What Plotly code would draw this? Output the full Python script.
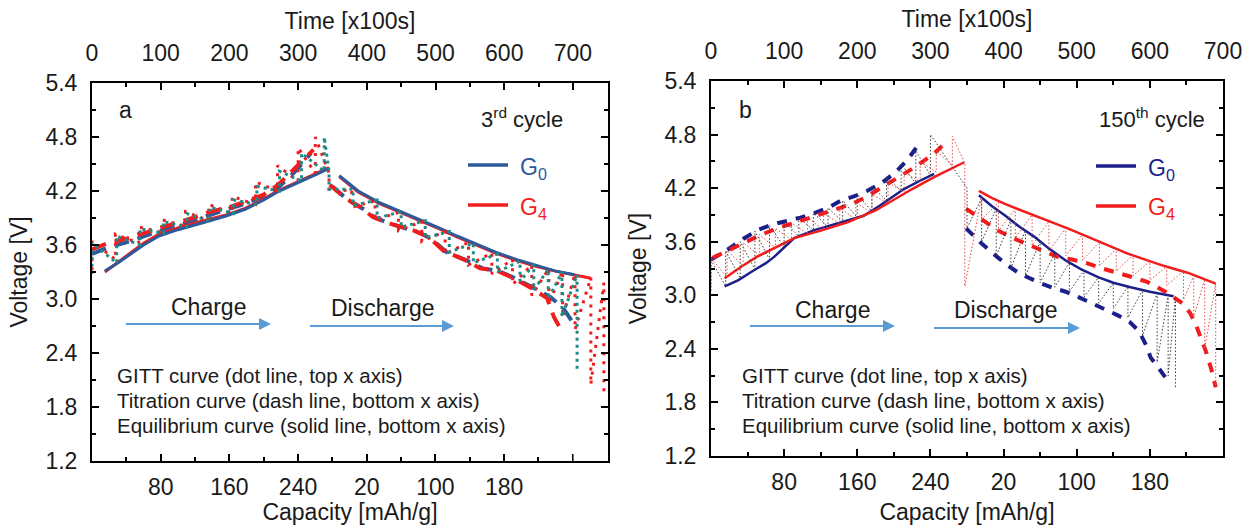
import plotly.graph_objects as go

# ---------------- panel a : 3rd cycle ----------------
# equilibrium curves (solid, bottom axis: continuous capacity scale)
a_eq_g0_chg_cap = [15, 30, 45, 60, 78, 100, 130, 155, 179, 200, 216, 240, 260, 276]
a_eq_g0_chg_v = [3.31, 3.40, 3.50, 3.60, 3.70, 3.77, 3.85, 3.92, 4.00, 4.10, 4.19, 4.29, 4.38, 4.45]
a_eq_g4_chg_cap = [15, 30, 45, 60, 78, 100, 130, 155, 179, 200, 216, 240, 260, 276]
a_eq_g4_chg_v = [3.30, 3.41, 3.52, 3.62, 3.72, 3.79, 3.87, 3.93, 4.01, 4.11, 4.20, 4.30, 4.39, 4.46]
a_eq_g0_dis_cap = [288, 310, 335, 355, 380, 402, 425, 447, 470, 494, 518, 540, 562]
a_eq_g0_dis_v = [4.37, 4.20, 4.07, 3.99, 3.89, 3.80, 3.70, 3.61, 3.52, 3.44, 3.37, 3.31, 3.27]
a_eq_g4_dis_cap = [288, 310, 335, 355, 380, 402, 425, 447, 470, 494, 518, 540, 562, 581]
a_eq_g4_dis_v = [4.36, 4.19, 4.06, 3.98, 3.88, 3.79, 3.69, 3.60, 3.51, 3.43, 3.36, 3.31, 3.27, 3.23]

# titration curves (dashed, bottom axis)
a_ti_g0_chg_cap = [0, 18, 40, 57, 80, 97, 120, 138, 160, 175, 200, 217, 237, 255]
a_ti_g0_chg_v = [3.50, 3.57, 3.63, 3.69, 3.76, 3.81, 3.88, 3.94, 4.00, 4.05, 4.14, 4.24, 4.42, 4.62]
a_ti_g4_chg_cap = [0, 18, 40, 57, 80, 97, 120, 138, 160, 175, 200, 217, 237, 258]
a_ti_g4_chg_v = [3.55, 3.62, 3.67, 3.72, 3.79, 3.84, 3.91, 3.97, 4.02, 4.07, 4.16, 4.27, 4.46, 4.66]
a_ti_g0_dis_cap = [280, 298, 316, 330, 353, 378, 395, 413, 436, 455, 474, 493, 515, 534, 548, 560]
a_ti_g0_dis_v = [4.25, 4.10, 4.00, 3.90, 3.82, 3.75, 3.67, 3.52, 3.43, 3.34, 3.31, 3.23, 3.12, 3.02, 2.91, 2.74]
a_ti_g4_dis_cap = [277, 295, 313, 327, 350, 375, 392, 410, 433, 452, 470, 489, 512, 530, 538, 548]
a_ti_g4_dis_v = [4.27, 4.12, 4.02, 3.91, 3.83, 3.76, 3.69, 3.53, 3.44, 3.34, 3.32, 3.24, 3.12, 3.01, 2.80, 2.63]

# GITT steps (dotted, top axis: time in x100 s): pulse time, relaxed voltage, pulse-end voltage
a_gitt_g0_t = [0, 36, 70, 104, 138, 172, 206, 240, 273, 305, 338,
               345, 380, 415, 450, 485, 520, 555, 590, 623, 643, 664, 684, 706]
a_gitt_g0_rest = [3.28, 3.40, 3.60, 3.73, 3.80, 3.86, 3.95, 4.05, 4.20, 4.31, 4.42,
                  4.42, 4.22, 4.10, 3.97, 3.87, 3.75, 3.62, 3.50, 3.42, 3.38, 3.33, 3.30, 3.27]
a_gitt_g0_pulse = [3.62, 3.70, 3.78, 3.86, 3.95, 4.02, 4.10, 4.25, 4.42, 4.62, 4.80,
                   4.22, 4.04, 3.90, 3.80, 3.68, 3.52, 3.40, 3.30, 3.20, 3.10, 3.00, 2.80, 2.20]
a_gitt_g4_t = [0, 34, 68, 102, 136, 170, 204, 238, 270, 300, 325,
               345, 378, 412, 446, 480, 514, 548, 582, 612, 640, 665, 685, 703, 726, 745]
a_gitt_g4_rest = [3.32, 3.44, 3.62, 3.74, 3.81, 3.87, 3.95, 4.05, 4.20, 4.31, 4.40,
                  4.40, 4.21, 4.09, 3.96, 3.86, 3.75, 3.63, 3.51, 3.44, 3.38, 3.34, 3.31, 3.28, 3.24, 3.18]
a_gitt_g4_pulse = [3.64, 3.72, 3.80, 3.88, 3.97, 4.05, 4.14, 4.30, 4.48, 4.68, 4.80,
                   4.20, 4.02, 3.88, 3.76, 3.64, 3.50, 3.38, 3.28, 3.16, 3.04, 2.95, 2.80, 2.66, 2.05, 1.97]

# ---------------- panel b : 150th cycle ----------------
b_eq_g0_chg_cap = [15, 30, 47, 60, 69, 80, 91, 113, 130, 149, 167, 184, 200, 211, 228, 244]
b_eq_g0_chg_v = [3.10, 3.17, 3.28, 3.36, 3.43, 3.54, 3.64, 3.73, 3.78, 3.83, 3.89, 4.00, 4.11, 4.19, 4.28, 4.36]
b_eq_g4_chg_cap = [15, 33, 50, 69, 91, 122, 150, 180, 200, 220, 245, 265, 277]
b_eq_g4_chg_v = [3.19, 3.32, 3.43, 3.53, 3.64, 3.73, 3.82, 3.95, 4.07, 4.19, 4.33, 4.43, 4.49]
b_eq_g0_dis_cap = [293, 307, 322, 337, 353, 370, 388, 405, 424, 440, 459, 480, 506]
b_eq_g0_dis_v = [4.12, 4.00, 3.89, 3.77, 3.66, 3.52, 3.39, 3.29, 3.20, 3.14, 3.09, 3.04, 2.99]
b_eq_g4_dis_cap = [293, 307, 322, 345, 366, 390, 411, 435, 455, 475, 495, 522, 552]
b_eq_g4_dis_v = [4.17, 4.09, 4.02, 3.93, 3.84, 3.75, 3.66, 3.56, 3.47, 3.40, 3.33, 3.25, 3.13]

b_ti_g0_chg_cap = [0, 18, 35, 51, 66, 82, 98, 113, 128, 142, 157, 171, 187, 202, 216, 229]
b_ti_g0_chg_v = [3.40, 3.51, 3.63, 3.73, 3.79, 3.83, 3.87, 3.92, 3.98, 4.06, 4.11, 4.17, 4.26, 4.38, 4.53, 4.72]
b_ti_g4_chg_cap = [2, 18, 33, 47, 60, 75, 91, 106, 122, 137, 153, 168, 184, 200, 219, 242, 260]
b_ti_g4_chg_v = [3.42, 3.50, 3.58, 3.64, 3.70, 3.76, 3.81, 3.86, 3.92, 3.97, 4.02, 4.09, 4.19, 4.29, 4.41, 4.57, 4.74]
b_ti_g0_dis_cap = [279, 296, 313, 325, 338, 350, 362, 375, 388, 402, 415, 430, 446, 458, 468, 475, 481, 490, 497]
b_ti_g0_dis_v = [3.75, 3.58, 3.43, 3.33, 3.24, 3.18, 3.13, 3.08, 3.04, 2.98, 2.92, 2.85, 2.77, 2.70, 2.60, 2.46, 2.30, 2.18, 2.08]
b_ti_g4_dis_cap = [279, 296, 313, 328, 344, 362, 379, 395, 411, 428, 446, 462, 477, 497, 517, 524, 530, 536, 541, 547, 552]
b_ti_g4_dis_v = [3.97, 3.85, 3.73, 3.65, 3.58, 3.50, 3.43, 3.40, 3.36, 3.30, 3.25, 3.20, 3.15, 3.04, 2.90, 2.80, 2.68, 2.52, 2.38, 2.18, 1.97]

b_gitt_g0_t = [0, 20, 40, 60, 80, 100, 120, 140, 160, 180, 200, 220, 240, 260, 280, 300,
               350, 370, 390, 410, 430, 450, 470, 490, 510, 530, 550, 570, 590, 610, 625, 635]
b_gitt_g0_rest = [3.05, 3.10, 3.19, 3.29, 3.40, 3.54, 3.66, 3.73, 3.77, 3.82, 3.87, 3.94, 4.06, 4.17, 4.25, 4.34,
                  4.20, 4.09, 3.97, 3.85, 3.73, 3.60, 3.47, 3.37, 3.28, 3.20, 3.14, 3.10, 3.06, 3.02, 3.00, 2.98]
b_gitt_g0_pulse = [3.40, 3.50, 3.60, 3.72, 3.78, 3.83, 3.87, 3.92, 3.98, 4.06, 4.13, 4.22, 4.33, 4.47, 4.62, 4.80,
                   3.75, 3.60, 3.44, 3.30, 3.22, 3.14, 3.09, 3.04, 2.98, 2.91, 2.85, 2.75, 2.55, 2.25, 2.10, 1.97]
b_gitt_g4_t = [0, 22, 44, 66, 88, 110, 132, 154, 176, 198, 220, 242, 264, 286, 308, 330,
               347, 370, 393, 416, 439, 462, 485, 508, 531, 554, 577, 600, 623, 646, 660, 675, 690]
b_gitt_g4_rest = [3.12, 3.20, 3.33, 3.45, 3.53, 3.62, 3.69, 3.73, 3.80, 3.85, 3.92, 4.03, 4.16, 4.27, 4.38, 4.45,
                  4.48, 4.12, 4.04, 3.97, 3.90, 3.83, 3.75, 3.68, 3.60, 3.52, 3.45, 3.38, 3.32, 3.27, 3.22, 3.18, 3.13]
b_gitt_g4_pulse = [3.42, 3.50, 3.59, 3.68, 3.75, 3.81, 3.87, 3.92, 3.98, 4.04, 4.13, 4.26, 4.38, 4.50, 4.62, 4.78,
                   3.10, 3.85, 3.72, 3.64, 3.56, 3.50, 3.44, 3.39, 3.33, 3.27, 3.22, 3.17, 3.11, 2.95, 2.75, 2.40, 1.97]

# bottom axis: charge capacity continues into discharge capacity (discharge 0 sits at 300)
cap_ticks_a = [80, 160, 240, 320, 400, 480]
cap_text_a = ["80", "160", "240", "20", "100", "180"]
cap_ticks_b = [80, 160, 240, 320, 400, 480]
cap_text_b = ["80", "160", "240", "20", "100", "180"]
v_ticks = [1.2, 1.8, 2.4, 3.0, 3.6, 4.2, 4.8, 5.4]

# ---------------- styling ----------------
W, H = 1249, 525
BLUE_A = "#2c5a9a"
BLUE_B = "#1b1f8a"
RED = "#f21c1c"
TEAL = "#1f8a88"
ARROW = "#5b9bd5"
FONT = "Liberation Sans, Arial, sans-serif"


def px(x):
    return x / W


def py(y):
    return 1 - y / H


def gitt_path(t, rest, pulse):
    xs, ys = [], []
    for ti, r, p in zip(t, rest, pulse):
        xs += [ti, ti]
        ys += [r, p]
    return xs, ys


def trace(x, y, xa, ya, color, width, dash="solid"):
    return go.Scatter(x=x, y=y, xaxis=xa, yaxis=ya, mode="lines",
                      line=dict(color=color, width=width, dash=dash),
                      showlegend=False, hoverinfo="skip")


fig = go.Figure()

# panel a
DASH_A = "15px,9px"
fig.add_trace(trace(a_ti_g0_chg_cap, a_ti_g0_chg_v, "x", "y", BLUE_A, 4, DASH_A))
fig.add_trace(trace(a_ti_g0_dis_cap, a_ti_g0_dis_v, "x", "y", BLUE_A, 4, DASH_A))
fig.add_trace(trace(a_ti_g4_chg_cap, a_ti_g4_chg_v, "x", "y", RED, 4, DASH_A))
fig.add_trace(trace(a_ti_g4_dis_cap, a_ti_g4_dis_v, "x", "y", RED, 4, DASH_A))
gx, gy = gitt_path(a_gitt_g4_t, a_gitt_g4_rest, a_gitt_g4_pulse)
fig.add_trace(trace(gx, gy, "x2", "y", RED, 3, "3px,6px"))
gx, gy = gitt_path(a_gitt_g0_t, a_gitt_g0_rest, a_gitt_g0_pulse)
fig.add_trace(trace(gx, gy, "x2", "y", TEAL, 3, "3px,4px"))
fig.add_trace(trace(a_eq_g4_chg_cap, a_eq_g4_chg_v, "x", "y", RED, 3))
fig.add_trace(trace(a_eq_g4_dis_cap, a_eq_g4_dis_v, "x", "y", RED, 3))
fig.add_trace(trace(a_eq_g0_chg_cap, a_eq_g0_chg_v, "x", "y", BLUE_A, 3))
fig.add_trace(trace(a_eq_g0_dis_cap, a_eq_g0_dis_v, "x", "y", BLUE_A, 3))

# panel b
DASH_B = "10px,9px"
gx, gy = gitt_path(b_gitt_g0_t, b_gitt_g0_rest, b_gitt_g0_pulse)
fig.add_trace(trace(gx, gy, "x4", "y2", "#3a3a3a", 1, "1.5px,2px"))
gx, gy = gitt_path(b_gitt_g4_t, b_gitt_g4_rest, b_gitt_g4_pulse)
fig.add_trace(trace(gx, gy, "x4", "y2", "#e24a4a", 1, "1.5px,2px"))
fig.add_trace(trace(b_eq_g0_chg_cap, b_eq_g0_chg_v, "x3", "y2", BLUE_B, 2.5))
fig.add_trace(trace(b_eq_g0_dis_cap, b_eq_g0_dis_v, "x3", "y2", BLUE_B, 2.5))
fig.add_trace(trace(b_eq_g4_chg_cap, b_eq_g4_chg_v, "x3", "y2", RED, 2.5))
fig.add_trace(trace(b_eq_g4_dis_cap, b_eq_g4_dis_v, "x3", "y2", RED, 2.5))
fig.add_trace(trace(b_ti_g0_chg_cap, b_ti_g0_chg_v, "x3", "y2", BLUE_B, 4, DASH_B))
fig.add_trace(trace(b_ti_g0_dis_cap, b_ti_g0_dis_v, "x3", "y2", BLUE_B, 4, DASH_B))
fig.add_trace(trace(b_ti_g4_chg_cap, b_ti_g4_chg_v, "x3", "y2", RED, 4, DASH_B))
fig.add_trace(trace(b_ti_g4_dis_cap, b_ti_g4_dis_v, "x3", "y2", RED, 4, DASH_B))

tickfont = dict(family=FONT, size=23, color="#1a1a1a")
titlefont = dict(family=FONT, size=23, color="#1a1a1a")
common = dict(showline=True, linecolor="black", linewidth=2, ticks="inside",
              ticklen=7, tickwidth=1.5, tickcolor="black", showgrid=False,
              zeroline=False, tickfont=tickfont, fixedrange=True, automargin=False)
minor_style = dict(ticks="inside", ticklen=4, tickwidth=1.5, tickcolor="black")


def bottom_axis(domain, yref, rng, tv, tt):
    minor_vals = [v - 40 for v in tv] + [tv[-1] + 40]
    minor_vals = [m for m in minor_vals if 0 < m < rng[1] - 5]
    return dict(domain=domain, anchor=yref, side="bottom", range=rng,
                tickmode="array", tickvals=tv, ticktext=tt, ticklabelstandoff=4,
                title=dict(text="Capacity [mAh/g]", font=titlefont, standoff=11),
                minor=dict(tickmode="array", tickvals=minor_vals, **minor_style),
                **common)


def top_axis(over, yref, rng):
    major = list(range(0, int(rng[1]) + 1, 100))
    minor_vals = [m + 50 for m in major if m + 50 < rng[1] - 5]
    return dict(overlaying=over, anchor=yref, side="top", range=rng,
                tickmode="array", tickvals=major, ticktext=[str(m) for m in major],
                ticklabelstandoff=11,
                title=dict(text="Time [x100s]", font=titlefont, standoff=4),
                minor=dict(tickmode="array", tickvals=minor_vals, **minor_style),
                **common)


def v_axis(domain, xref):
    minor_vals = [round(v + 0.3, 1) for v in v_ticks[:-1]]
    return dict(domain=domain, anchor=xref, range=[1.2, 5.4], mirror="ticks",
                tickmode="array", tickvals=v_ticks, ticktext=[f"{v:.1f}" for v in v_ticks],
                ticklabelstandoff=8,
                title=dict(text="Voltage [V]", font=titlefont, standoff=11),
                minor=dict(tickmode="array", tickvals=minor_vals, **minor_style),
                **common)


A_X = [px(92), px(608)]
A_Y = [py(461), py(83)]
B_X = [px(711), px(1223)]
B_Y = [py(456), py(81)]

fig.update_layout(
    template="none",
    width=W, height=H, autosize=False,
    margin=dict(l=0, r=0, t=0, b=0, autoexpand=False),
    paper_bgcolor="white", plot_bgcolor="white",
    showlegend=False,
    xaxis=bottom_axis(A_X, "y", [0, 601], cap_ticks_a, cap_text_a),
    xaxis2=top_axis("x", "y", [0, 751]),
    yaxis=v_axis(A_Y, "x"),
    xaxis3=bottom_axis(B_X, "y2", [0, 560], cap_ticks_b, cap_text_b),
    xaxis4=top_axis("x3", "y2", [0, 700]),
    yaxis2=v_axis(B_Y, "x3"),
)

ann = []
shapes = []

# unlabeled major tick at the right end of panel a's capacity axis
shapes.append(dict(type="line", xref="x", yref="paper", x0=560, x1=560,
                   y0=py(461), y1=py(454), line=dict(color="black", width=1.5)))


def text(x, y, s, size=23, color="#1a1a1a", xanchor="center"):
    ann.append(dict(x=px(x), y=py(y), xref="paper", yref="paper", text=s,
                    showarrow=False, xanchor=xanchor, yanchor="middle",
                    font=dict(family=FONT, size=size, color=color)))


def arrow(x0, x1, y):
    # shaft plus a filled triangular head
    shapes.append(dict(type="line", xref="paper", yref="paper",
                       x0=px(x0), x1=px(x1 - 10), y0=py(y), y1=py(y),
                       line=dict(color=ARROW, width=2)))
    path = (f"M {px(x1 - 12)},{py(y - 6)} L {px(x1)},{py(y)} "
            f"L {px(x1 - 12)},{py(y + 6)} Z")
    shapes.append(dict(type="path", xref="paper", yref="paper", path=path,
                       fillcolor=ARROW, line=dict(color=ARROW, width=0)))


panels = [
    dict(tag="a", tagx=117, cyc="3<sup>rd</sup> cycle", cycx=522, blue=BLUE_A,
         legx=468, leg0=165, leg4=205, ch=(208, 307, 126, 271, 324), dis=(383, 308, 310, 454, 326),
         notes=115),
    dict(tag="b", tagx=737, cyc="150<sup>th</sup> cycle", cycx=1152, blue=BLUE_B,
         legx=1096, leg0=166, leg4=206, ch=(832, 310, 750, 895, 326), dis=(1006, 310, 934, 1080, 328),
         notes=740),
]

for p in panels:
    text(p["tagx"], 110, p["tag"], xanchor="left")
    text(p["cycx"], 118, p["cyc"], size=22)
    for yy, lab, col in [(p["leg0"], "G<sub>0</sub>", p["blue"]), (p["leg4"], "G<sub>4</sub>", RED)]:
        shapes.append(dict(type="line", xref="paper", yref="paper",
                           x0=px(p["legx"]), x1=px(p["legx"] + 40), y0=py(yy), y1=py(yy),
                           line=dict(color=col, width=3.5)))
        text(p["legx"] + 50, yy + 3, lab, size=23, color=col, xanchor="left")
    cx, cy, a0, a1, ay = p["ch"]
    text(cx, cy, "Charge")
    arrow(a0, a1, ay)
    cx, cy, a0, a1, ay = p["dis"]
    text(cx, cy, "Discharge")
    arrow(a0, a1, ay)
    text(p["notes"], 375, "GITT curve (dot line, top x axis)", size=20.5, xanchor="left")
    text(p["notes"], 400, "Titration curve (dash line, bottom x axis)", size=20.5, xanchor="left")
    text(p["notes"], 425, "Equilibrium curve (solid line, bottom x axis)", size=20.5, xanchor="left")

fig.update_layout(annotations=ann, shapes=shapes)
fig.write_html("out.html")
